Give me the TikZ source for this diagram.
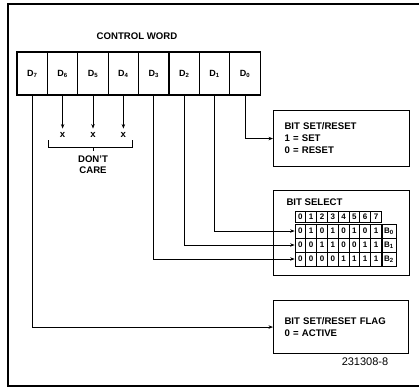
\documentclass[tikz,border=0pt]{standalone}
\usepackage{fontspec}
\setsansfont{Liberation Sans}
\usepackage{tikz}
\usetikzlibrary{positioning,arrows.meta}

\begin{document}
\begin{tikzpicture}[x=1pt, y=-1pt,
  bit/.style={draw, line width=1.1pt, minimum width=30.4pt, minimum height=43pt,
              inner sep=0, font=\sffamily\bfseries\fontsize{9}{10}\selectfont},
  infobox/.style={draw, line width=1.1pt, align=left, inner xsep=11pt,
                  font=\sffamily\bfseries\fontsize{9.6}{12}\selectfont},
  hcell/.style={draw, line width=0.7pt, minimum width=10.8pt, minimum height=11pt,
                inner sep=0, font=\sffamily\bfseries\fontsize{8}{9}\selectfont},
  dcell/.style={hcell, minimum height=14pt},
  lab/.style={font=\sffamily\bfseries\fontsize{9.6}{11}\selectfont, align=center},
  arr/.style={-{Stealth[length=4.5pt, width=3.5pt]}, line width=0.9pt}]
\useasboundingbox (0,0) rectangle (419,388);
\draw[line width=1.4pt] (419,4) -- (8,4) -- (8,386) -- (419,386);
\node[lab] (cw) at (137,36) {CONTROL WORD};
\foreach \i/\b in {0/7, 1/6, 2/5, 3/4, 4/3, 5/2, 6/1, 7/0}
  \node[bit] (d\b) at (32.2+\i*30.4, 73.5) {D\textsubscript{\b}};
\foreach \b in {6,5,4} {
  \node[lab, below=33pt of d\b] (x\b) {x};
  \draw[arr] (d\b.south) -- (x\b.north);
}
\draw[line width=0.9pt] (48,140) -- (48,147) -- (132,147) -- (132,140);
\draw[line width=0.9pt] (x5 |- 0,147) -- (x5 |- 0,151);
\node[lab] (dc) at (x5 |- 0,165) {DON'T\\CARE};
\node[infobox, text width=114pt, minimum height=56pt, anchor=north west] (setbox)
  at (273,110) {BIT SET/RESET\\1 = SET\\0 = RESET};
\node[draw, line width=1.1pt, minimum width=136pt, minimum height=85pt,
      anchor=north west] (selbox) at (273,190) {};
\node[lab, anchor=west] (seltitle) at (283,202) {BIT SELECT};
\foreach \c in {0,...,7}
  \node[hcell] (h\c) at (300.4+\c*10.8, 217) {\c};
\foreach \r/\bits in {0/{0,1,0,1,0,1,0,1}, 1/{0,0,1,1,0,0,1,1}, 2/{0,0,0,0,1,1,1,1}} {
  \foreach \v [count=\c from 0] in \bits
    \node[dcell] (r\r c\c) at (300.4+\c*10.8, 231+\r*14) {\v};
  \node[dcell, minimum width=14pt] (b\r) at (389, 231+\r*14) {B\textsubscript{\r}};
}
\node[infobox, text width=113pt, minimum height=53pt, anchor=north west] (flagbox)
  at (273,300) {BIT SET/RESET FLAG\\0 = ACTIVE};
\node[font=\sffamily\fontsize{11}{12}\selectfont] (fig) at (365,362) {231308-8};
\draw[arr] (d0.south) |- (setbox.west);
\draw[arr] (d1.south) |- (r0c0.west);
\draw[arr] (d2.south) |- (r1c0.west);
\draw[arr] (d3.south) |- (r2c0.west);
\draw[arr] (d7.south) |- (flagbox.west);
\end{tikzpicture}
\end{document}
